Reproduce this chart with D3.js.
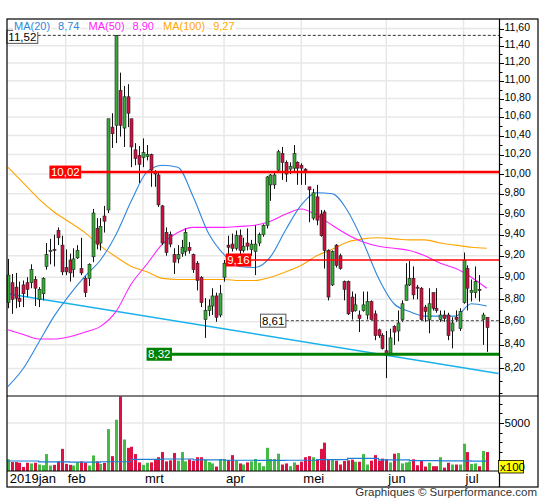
<!DOCTYPE html>
<html><head><meta charset="utf-8">
<script src="https://cdn.jsdelivr.net/npm/d3@7"></script>
<style>
body{margin:0;background:#fff}
svg{display:block}
text{font-family:"Liberation Sans",Arial,sans-serif}
</style></head>
<body><svg id="c" width="545" height="500"></svg>
<script>
// ---------- DATA ----------
const months = ["2019jan","feb","mrt","apr","mei","jun","jul"];
const monthDays = [15,20,21,20,22,20,7];   // trading days shown per month
const opens = [8.77,8.95,8.91,8.81,8.93,8.95,8.95,8.98,8.80,8.85,9.10,9.24,9.26,9.44,9.30,9.09,9.16,9.07,9.18,9.08,
8.99,8.99,9.19,9.46,9.32,9.58,9.64,10.49,10.51,10.89,10.48,10.82,10.58,10.25,10.19,10.17,10.18,10.20,10.02,9.99,
9.68,9.42,9.40,9.21,9.17,9.22,9.24,9.28,9.21,9.13,9.00,8.62,8.70,8.74,8.83,8.66,9.00,9.30,9.31,9.27,
9.39,9.25,9.32,9.26,9.24,9.32,9.40,9.49,9.89,9.89,10.04,10.21,10.12,10.05,10.06,10.12,10.09,10.05,9.87,9.56,
9.77,9.60,9.62,9.25,8.93,9.30,9.20,8.96,8.96,8.82,8.70,8.66,8.70,8.66,8.78,8.67,8.53,8.48,8.35,8.33,
8.56,8.52,8.62,8.79,8.93,8.99,8.91,8.90,8.73,8.62,8.86,8.72,8.62,8.66,8.66,8.52,8.64,8.54,8.77,9.08,
8.86,8.86,8.89,8.62,8.64];
const highs = [9.17,9.03,9.04,8.96,8.97,9.00,9.12,9.01,8.91,9.00,9.32,9.36,9.40,9.47,9.39,9.26,9.22,9.27,9.30,9.37,
9.01,9.13,9.65,9.56,9.56,9.68,10.58,10.64,11.52,11.09,10.94,10.96,10.58,10.32,10.29,10.37,10.30,10.21,10.04,10.02,
9.69,9.47,9.43,9.27,9.30,9.35,9.46,9.33,9.22,9.15,9.01,8.81,8.80,8.90,8.86,8.93,9.16,9.39,9.41,9.44,
9.45,9.37,9.46,9.35,9.49,9.42,9.50,9.98,10.00,10.02,10.25,10.28,10.14,10.12,10.30,10.13,10.11,10.06,9.87,9.85,
9.89,9.64,9.64,9.26,9.25,9.31,9.22,8.97,8.97,8.87,8.85,8.70,8.87,8.87,8.79,8.70,8.54,8.50,8.52,8.54,
8.57,8.70,8.79,9.13,9.15,9.10,8.93,8.91,8.75,8.90,8.86,8.90,8.70,8.70,8.68,8.64,8.70,8.72,9.23,9.11,
8.98,9.10,9.02,8.68,8.64];
const lows = [8.72,8.67,8.72,8.73,8.73,8.82,8.90,8.74,8.73,8.79,9.07,9.12,9.10,9.30,9.02,9.02,8.96,9.00,9.17,9.02,
8.82,8.92,9.14,9.26,9.25,9.42,9.61,10.27,10.32,10.39,10.28,10.49,10.07,10.09,9.91,10.07,10.14,9.87,9.87,9.67,
9.30,9.20,9.28,9.03,9.13,9.19,9.20,9.22,9.04,8.88,8.73,8.46,8.65,8.66,8.60,8.64,8.96,9.21,9.24,9.25,
9.21,9.23,9.25,9.20,9.02,9.29,9.38,9.46,9.73,9.85,10.02,9.94,9.92,10.00,10.01,9.89,9.89,9.89,9.52,9.54,
9.49,9.38,9.08,8.79,8.92,9.09,9.07,8.79,8.66,8.62,8.69,8.51,8.69,8.62,8.62,8.44,8.46,8.36,8.12,8.32,
8.40,8.43,8.60,8.79,8.92,8.80,8.80,8.61,8.60,8.50,8.70,8.68,8.60,8.60,8.44,8.37,8.60,8.52,8.76,8.70,
8.78,8.81,8.78,8.40,8.34];
const closes = [9.02,8.80,8.81,8.78,8.85,8.89,9.07,8.90,8.89,8.99,9.21,9.25,9.25,9.37,9.05,9.05,9.04,9.17,9.25,9.04,
8.86,9.12,9.61,9.31,9.48,9.53,10.58,10.42,11.52,10.51,10.82,10.64,10.28,10.16,10.10,10.22,10.20,10.04,10.00,9.69,
9.32,9.23,9.31,9.14,9.21,9.28,9.42,9.25,9.07,8.97,8.77,8.70,8.74,8.83,8.64,8.85,9.13,9.28,9.27,9.39,
9.25,9.29,9.29,9.31,9.31,9.40,9.49,9.97,9.99,9.99,10.23,10.12,10.00,10.08,10.21,10.06,10.06,10.03,9.84,9.81,
9.54,9.39,9.25,8.82,9.24,9.11,9.08,8.89,8.67,8.69,8.75,8.63,8.75,8.78,8.62,8.48,8.48,8.37,8.32,8.46,
8.51,8.59,8.76,8.93,8.99,8.84,8.90,8.62,8.69,8.76,8.72,8.70,8.66,8.63,8.48,8.59,8.62,8.69,9.16,8.90,
8.88,8.96,8.88,8.66,8.55];
const volumes = [1219,930,930,860,425,860,788,860,675,600,1760,570,640,1000,2300,737,640,570,895,1000,
860,570,1615,1000,737,860,4356,1545,5330,7745,3275,2410,2520,1760,895,640,860,895,1180,1435,
1970,1000,1110,1870,1075,1970,1000,1219,1040,1435,1435,1180,930,788,465,1255,1255,1150,1650,1075,
788,675,895,1000,1255,860,500,2410,1255,1255,1800,675,788,500,895,640,965,1435,1545,1435,
1219,2300,2950,1219,1150,1075,675,1040,1110,1180,965,965,1760,675,1075,1650,1075,1290,1219,895,
1800,1870,788,895,965,1219,600,1040,465,860,500,500,1435,355,860,675,675,675,2840,1970,
737,788,500,2085,1970];
const maIdx = [0,4,8,12,16,20,24,28,32,36,40,44,48,52,56,60,64,68,72,76,80,84,88,92,96,100,104,108,112,116,120,124];
const ma20 = [8.05,8.20,8.42,8.65,8.84,9.01,9.16,9.40,9.73,10.02,10.09,10.07,9.77,9.41,9.21,9.10,9.09,9.19,9.45,9.69,9.81,9.80,9.63,9.33,8.99,8.76,8.69,8.65,8.65,8.65,8.76,8.74];
const ma50 = [8.53,8.49,8.45,8.45,8.47,8.51,8.56,8.69,8.94,9.12,9.31,9.42,9.47,9.47,9.47,9.48,9.49,9.53,9.60,9.65,9.59,9.49,9.40,9.33,9.29,9.27,9.25,9.20,9.13,9.08,9.00,8.90];
const ma100 = [10.07,9.91,9.75,9.62,9.52,9.42,9.29,9.19,9.10,9.05,8.99,8.98,8.98,8.98,8.98,8.97,8.97,9.00,9.05,9.11,9.20,9.26,9.33,9.36,9.37,9.36,9.35,9.35,9.32,9.30,9.28,9.27];
const volMaIdx = [0,8,16,24,32,40,48,56,64,72,80,88,96,104,112,120,124];
const volMa = [1040,950,930,960,1200,1250,1150,1120,1100,1120,1180,1320,1150,1080,1050,1020,1050];
const trendPts = [[0,8.85],[124,8.175]];
const levels = [
  {v:10.02, start:19, style:"red"},
  {v:9.16,  start:63, style:"redThin"},
  {v:8.32,  start:42.5, style:"green"},
  {v:8.61,  start:72, style:"dash"},
  {v:11.52, start:0, style:"dashTop"}
];
const legend = [
  {name:"MA(20)", val:"8,74", color:"#2f86dd"},
  {name:"MA(50)", val:"8,90", color:"#ff22ff"},
  {name:"MA(100)", val:"9,27", color:"#ffa500"}
];

// ---------- LAYOUT ----------
const L=7, R=499.5, T=19, B=395.5, OR=538, VT=396, VB=471, FB=487;
const N = closes.length;
const svg = d3.select("#c");
const x = d3.scaleLinear().domain([0, N-1]).range([7.8, 486.7]);
const y = d3.scaleLog().domain([7.977, 11.714]).range([B, T]);
const yv = d3.scaleLinear().domain([0, 7800]).range([VB, VT]);
const fmt = v => v.toFixed(2).replace(".", ",");

const monthStart = [];
monthDays.reduce((acc, d) => { monthStart.push(acc); return acc + d; }, 0);

const grid = "#e8e8e8";
const major = d3.range(41, 59).map(k => +(k*0.2).toFixed(2));
svg.append("g").selectAll("line").data(major).join("line")
  .attr("x1", L).attr("x2", R).attr("y1", d => y(d)).attr("y2", d => y(d))
  .attr("stroke", grid).attr("stroke-width", 1.5);
const mg = svg.append("g");
monthStart.slice(1).forEach(i => {
  mg.append("line").attr("x1", x(i)).attr("x2", x(i)).attr("y1", T).attr("y2", B).attr("stroke", grid).attr("stroke-width", 1.5);
  mg.append("line").attr("x1", x(i)).attr("x2", x(i)).attr("y1", VT).attr("y2", VB).attr("stroke", grid).attr("stroke-width", 1.5);
});
svg.append("line").attr("x1", L).attr("x2", R).attr("y1", yv(5000)).attr("y2", yv(5000)).attr("stroke", grid).attr("stroke-width", 1.5);

// trend line (extended to the axis)
const [p0, p1] = trendPts;
const tx0 = x(p0[0]), ty0 = y(p0[1]), tx1 = x(p1[0]), ty1 = y(p1[1]);
const slope = (ty1 - ty0) / (tx1 - tx0);
svg.append("line").attr("x1", L+0.5).attr("y1", ty0 + slope*(L+0.5-tx0))
  .attr("x2", R-1).attr("y2", ty0 + slope*(R-1-tx0))
  .attr("stroke", "#1ab2ea").attr("stroke-width", 1.5);

// moving averages
const maLine = d3.line().x(d => x(d[0])).y(d => y(d[1])).curve(d3.curveMonotoneX);
[[ma100, "#ffa500"], [ma50, "#ff22ff"], [ma20, "#2f86dd"]].forEach(([arr, col]) => {
  svg.append("path").attr("d", maLine(maIdx.map((i, k) => [i, arr[k]])))
    .attr("fill", "none").attr("stroke", col).attr("stroke-width", 1.1);
});

// candles
const up = "#36ad36", dn = "#d0103f";
const cg = svg.append("g");
d3.range(N).forEach(i => {
  const xi = Math.round(x(i)) + 0.5;
  cg.append("line").attr("x1", xi).attr("x2", xi).attr("y1", y(highs[i])).attr("y2", y(lows[i]))
    .attr("stroke", "#111").attr("stroke-width", 1);
  const top = y(Math.max(opens[i], closes[i])), bot = y(Math.min(opens[i], closes[i]));
  cg.append("rect").attr("x", xi - 1.5).attr("width", 3)
    .attr("y", top).attr("height", Math.max(1, bot - top))
    .attr("fill", closes[i] >= opens[i] ? up : dn)
    .attr("stroke", "#222").attr("stroke-width", 0.6);
});

// level lines with labels
function labelBox(g, txt, xr, yc, bg, fg, border) {
  const t = g.append("text").attr("x", xr - 1.5).attr("y", yc + 4.2).attr("text-anchor", "end")
    .attr("font-size", 11.5).attr("fill", fg).text(txt);
  const bb = t.node().getBBox();
  g.insert("rect", "text").attr("x", bb.x - 1.5).attr("y", yc - 6.5).attr("width", bb.width + 3).attr("height", 13)
    .attr("fill", bg).attr("stroke", border || "none").attr("stroke-width", 1);
}
levels.forEach(lv => {
  const g = svg.append("g");
  const yy = y(lv.v), xs = x(lv.start);
  if (lv.style === "red") {
    g.append("line").attr("x1", xs).attr("x2", R).attr("y1", yy).attr("y2", yy).attr("stroke", "#ff0000").attr("stroke-width", 2.5);
    labelBox(g, fmt(lv.v), xs, yy, "#ff0000", "#fff");
  } else if (lv.style === "redThin") {
    g.append("line").attr("x1", xs).attr("x2", R).attr("y1", yy).attr("y2", yy).attr("stroke", "#ff0000").attr("stroke-width", 1.5);
    labelBox(g, fmt(lv.v), xs, yy, "#ff0000", "#fff");
  } else if (lv.style === "green") {
    g.append("line").attr("x1", xs).attr("x2", R).attr("y1", yy).attr("y2", yy).attr("stroke", "#008000").attr("stroke-width", 3);
    labelBox(g, fmt(lv.v), xs, yy, "#008000", "#fff");
  } else if (lv.style === "dash") {
    g.append("line").attr("x1", xs).attr("x2", R).attr("y1", yy).attr("y2", yy).attr("stroke", "#444").attr("stroke-width", 1).attr("stroke-dasharray", "3,2");
    labelBox(g, fmt(lv.v), xs, yy, "#fff", "#000", "#555");
  } else {
    const xb = x(lv.start) + 30;
    g.append("line").attr("x1", xb).attr("x2", R).attr("y1", yy).attr("y2", yy).attr("stroke", "#333").attr("stroke-width", 1).attr("stroke-dasharray", "3,2");
    labelBox(g, fmt(lv.v), xb, yy + 1.5, "#fff", "#000", "#555");
  }
});

// legend (white backgrounds over the grid)
const lg = svg.append("g");
let lx = 14;
legend.forEach(it => {
  [it.name, it.val].forEach((s, k) => {
    const t = lg.append("text").attr("x", lx).attr("y", 30).attr("font-size", 11).attr("fill", it.color).text(s);
    const bb = t.node().getBBox();
    lg.insert("rect", "text").attr("x", bb.x - 1).attr("y", 21).attr("width", bb.width + 2).attr("height", 11).attr("fill", "#fff");
    lx += bb.width + (k === 0 ? 8 : 9);
  });
});

// volume bars
svg.append("g").selectAll("rect").data(volumes).join("rect")
  .attr("x", (d, i) => Math.round(x(i)) - 1).attr("width", 3)
  .attr("y", d => yv(d)).attr("height", d => VB - yv(d))
  .attr("fill", (d, i) => closes[i] >= opens[i] ? "#44bb44" : "#dd1144");
svg.append("path").attr("d", d3.line().x(d => x(d[0])).y(d => yv(d[1])).curve(d3.curveStepAfter)(volMaIdx.map((i, k) => [i, volMa[k]])))
  .attr("fill", "none").attr("stroke", "#1b7fd6").attr("stroke-width", 1.2);

// frames & axes
const fr = svg.append("g").attr("stroke", "#000").attr("fill", "none");
fr.append("rect").attr("x", L).attr("y", T).attr("width", OR - L).attr("height", FB - T).attr("stroke-width", 1.2);
fr.append("line").attr("x1", L).attr("x2", OR).attr("y1", VT).attr("y2", VT).attr("stroke-width", 1.2);
fr.append("line").attr("x1", R).attr("x2", R).attr("y1", T).attr("y2", FB).attr("stroke-width", 1.2);
fr.append("line").attr("x1", L).attr("x2", R).attr("y1", VB).attr("y2", VB).attr("stroke-width", 1.2);

// price ticks and labels
const minor = d3.range(80, 117).map(k => k / 10);
svg.append("g").selectAll("line").data(minor).join("line")
  .attr("x1", R).attr("x2", d => R + (major.some(m => Math.abs(m - d) < 1e-6) ? 4.5 : 3))
  .attr("y1", d => Math.round(y(d)) + 0.5).attr("y2", d => Math.round(y(d)) + 0.5)
  .attr("stroke", "#000");
svg.append("g").selectAll("text").data(major).join("text")
  .attr("x", R + 5).attr("y", d => y(d) + 2.5).attr("font-size", 10.5).attr("fill", "#000").text(fmt);

// volume ticks
const vt = d3.range(1000, 8000, 1000);
svg.append("g").selectAll("line").data(vt).join("line")
  .attr("x1", R).attr("x2", d => R + (d === 5000 ? 4.5 : 3))
  .attr("y1", d => Math.round(yv(d)) + 0.5).attr("y2", d => Math.round(yv(d)) + 0.5).attr("stroke", "#000");
svg.append("text").attr("x", R + 5).attr("y", yv(5000) + 4).attr("font-size", 11.5).text("5000");
svg.append("rect").attr("x", R - 1).attr("y", 460.5).attr("width", 25).attr("height", 12.5).attr("fill", "#ffff00").attr("stroke", "#000").attr("stroke-width", 0.8);
svg.append("text").attr("x", R + 0.5).attr("y", 471).attr("font-size", 11.5).text("x100");

// month labels
svg.append("g").selectAll("text").data(months).join("text")
  .attr("x", (d, k) => x(monthStart[k]) + 2).attr("y", 483).attr("font-size", 13).attr("fill", "#000").text(d => d);

svg.append("text").attr("x", 537).attr("y", 496).attr("text-anchor", "end").attr("font-size", 11.5).attr("fill", "#333")
  .text("Graphiques © Surperformance.com");
</script></body></html>
